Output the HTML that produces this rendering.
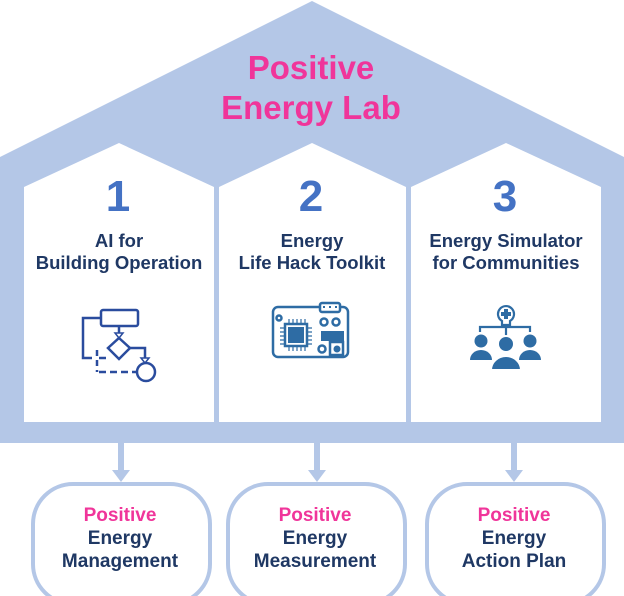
<!DOCTYPE html>
<html><head><meta charset="utf-8"><style>
html,body{margin:0;padding:0;background:#fff;}
svg{display:block;}
text{font-family:"Liberation Sans",Arial,sans-serif;font-weight:bold;text-anchor:middle;}
</style></head><body>
<svg width="624" height="596" viewBox="0 0 624 596" xmlns="http://www.w3.org/2000/svg">
<polygon points="312,1 624,157 624,443 0,443 0,157" fill="#b4c7e7"/>
<polygon points="24,187 119,143 214,187 214,422 24,422" fill="#fff"/>
<polygon points="219,187 312,143 406,187 406,422 219,422" fill="#fff"/>
<polygon points="411,187 506,143 601,187 601,422 411,422" fill="#fff"/>
<text x="311" y="79" font-size="33" fill="#f0359a">Positive</text>
<text x="311" y="119" font-size="33" fill="#f0359a">Energy Lab</text>
<text x="118" y="211" font-size="44" fill="#4472c4">1</text>
<text x="311" y="211" font-size="44" fill="#4472c4">2</text>
<text x="505" y="211" font-size="44" fill="#4472c4">3</text>
<g font-size="18.5" fill="#1f3864">
<text x="119" y="247">AI for</text>
<text x="119" y="269">Building Operation</text>
<text x="312" y="247">Energy</text>
<text x="312" y="269">Life Hack Toolkit</text>
<text x="506" y="247">Energy Simulator</text>
<text x="506" y="269">for Communities</text>
</g>
<g stroke="#2a4c9e" stroke-width="2.5" fill="none">
<rect x="101" y="310" width="37" height="16" rx="2"/>
<polyline points="101,318 83,318 83,358 92,358"/>
<line x1="119" y1="326" x2="119" y2="336"/>
<polygon points="119,338 130,348 119,359 108,348"/>
<polyline points="130,348 145,348 145,360"/>
<circle cx="146" cy="372" r="9"/>
<line x1="97" y1="350" x2="97" y2="372" stroke-dasharray="6,4"/>
<line x1="99" y1="372" x2="136" y2="372" stroke-dasharray="7,4"/>
<line x1="99" y1="358" x2="106" y2="358"/>
</g>
<g fill="#fff" stroke="#2a4c9e" stroke-width="1.5">
<polygon points="115,333 123,333 119,338"/>
<polygon points="141,358 149,358 145,363"/>
</g>
<g stroke="#2e6ca4" stroke-width="2.5" fill="none">
<path d="M320,307 H278 a5,5 0 0 0 -5,5 V352 a5,5 0 0 0 5,5 H343 a5,5 0 0 0 5,-5 V312 a5,5 0 0 0 -5,-5 H340"/>
<rect x="320" y="303" width="20" height="9" rx="2" fill="#fff"/>
<circle cx="279" cy="318" r="2.5"/>
<circle cx="324" cy="322" r="3.5"/>
<circle cx="336" cy="322" r="3.5"/>
<circle cx="322" cy="349" r="3.5"/>
<rect x="330" y="342" width="13" height="13"/>
<rect x="285" y="324" width="22" height="22"/>
</g>
<g fill="#2e6ca4">
<rect x="288" y="327" width="16" height="16"/>
<rect x="321" y="331" width="23" height="10"/>
<circle cx="337" cy="349" r="3.5"/>
<rect x="323" y="306" width="2" height="2"/><rect x="329" y="306" width="2" height="2"/><rect x="335" y="306" width="2" height="2"/>
</g>
<g stroke="#2e6ca4" stroke-width="1.2">
<path d="M289,319v5M293,319v5M297,319v5M301,319v5M305,319v5M289,346v5M293,346v5M297,346v5M301,346v5M305,346v5M280,328h5M280,332h5M280,336h5M280,340h5M280,344h5M307,328h5M307,332h5M307,336h5M307,340h5M307,344h5"/>
</g>
<g stroke="#2e6ca4" stroke-width="2.2" fill="none">
<path d="M502,321 a8,8 0 1 1 8,0 v4 h-8 z"/>
<polyline points="480,332 480,327 530,327 530,332"/>
<line x1="506" y1="325" x2="506" y2="336"/>
</g>
<g fill="#2e6ca4">
<path d="M504,309 h4 v3 h3 v4 h-3 v3 h-4 v-3 h-3 v-4 h3 z"/>
<circle cx="481" cy="341" r="6.5"/>
<circle cx="530" cy="341" r="6.5"/>
<path d="M470,360 a11,10 0 0 1 22,0 z"/>
<path d="M519,360 a11,10 0 0 1 22,0 z"/>
<circle cx="506" cy="344" r="8" stroke="#fff" stroke-width="2"/>
<path d="M491,370 a15,14 0 0 1 30,0 z" stroke="#fff" stroke-width="2"/>
</g>
<g fill="#b4c7e7">
<rect x="118" y="443" width="6" height="30"/><polygon points="112,470 130,470 121,482"/>
<rect x="314" y="443" width="6" height="30"/><polygon points="308,470 326,470 317,482"/>
<rect x="511" y="443" width="6" height="30"/><polygon points="505,470 523,470 514,482"/>
</g>
<g fill="#fff" stroke="#b4c7e7" stroke-width="4">
<rect x="33" y="484" width="177" height="120" rx="40"/>
<rect x="228" y="484" width="177" height="120" rx="40"/>
<rect x="427" y="484" width="177" height="120" rx="40"/>
</g>
<g font-size="19">
<text x="120" y="521" fill="#f0359a">Positive</text>
<text x="120" y="544" fill="#1f3864">Energy</text>
<text x="120" y="567" fill="#1f3864">Management</text>
<text x="315" y="521" fill="#f0359a">Positive</text>
<text x="315" y="544" fill="#1f3864">Energy</text>
<text x="315" y="567" fill="#1f3864">Measurement</text>
<text x="514" y="521" fill="#f0359a">Positive</text>
<text x="514" y="544" fill="#1f3864">Energy</text>
<text x="514" y="567" fill="#1f3864">Action Plan</text>
</g>
</svg>
</body></html>
